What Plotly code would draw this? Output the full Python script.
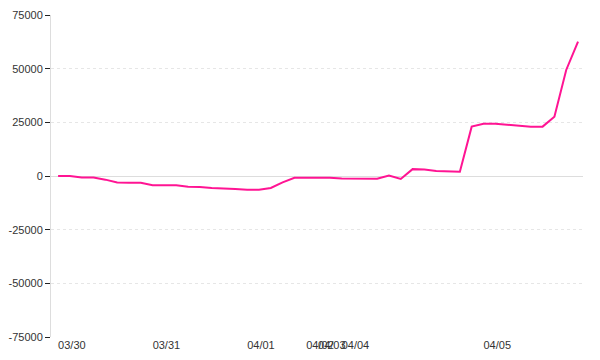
import plotly.graph_objects as go

# Data: one point per sample, each tagged with its date (category axis)
dates = (["03/30"] * 8 + ["03/31"] * 8 + ["04/01"] * 5 + ["04/02"] * 1 +
         ["04/03"] * 2 + ["04/04"] * 12 + ["04/05"] * 9)
values = [0, 0, -700, -700, -1700, -3000, -3100, -3100,
          -4300, -4300, -4300, -5000, -5100, -5600, -5700, -6000,
          -6400, -6400, -5600, -3000, -800,
          -800,
          -800, -800,
          -1200, -1250, -1250, -1250, 200, -1400, 3200, 3000, 2300, 2000, 2000, 23000,
          24300, 24300, 23900, 23400, 23000, 23000, 27600, 49400, 62600]
y_ticks = [75000, 50000, 25000, 0, -25000, -50000, -75000]

x = list(range(len(values)))
tickvals, ticktext = [], []
for i, d in enumerate(dates):
    if i == 0 or d != dates[i - 1]:
        tickvals.append(i)
        ticktext.append(d)

fig = go.Figure()
fig.add_trace(go.Scatter(x=x, y=values, mode="lines",
                         line=dict(color="#ff1493", width=2),
                         hoverinfo="skip", showlegend=False))

font = dict(family="Liberation Sans, Arial, sans-serif", size=11, color="#333333")
fig.update_layout(
    width=600, height=360,
    margin=dict(l=51, r=17, t=15, b=23),
    paper_bgcolor="white", plot_bgcolor="white",
    font=font,
    showlegend=False,
    xaxis=dict(range=[-0.6, len(values) - 1 + 0.42],
               tickmode="array", tickvals=tickvals, ticktext=ticktext,
               ticklabelposition="outside right", tickangle=0,
               automargin=False,
               showgrid=False, zeroline=False, showline=False,
               ticks="", tickfont=font),
    yaxis=dict(range=[-75000, 75000], tickmode="array", tickvals=y_ticks,
               ticktext=[str(v) for v in y_ticks], automargin=False,
               showgrid=True, gridcolor="#e6e6e6", griddash="dot", gridwidth=1,
               zeroline=True, zerolinecolor="#dddddd", zerolinewidth=1,
               showline=True, linecolor="#dddddd", linewidth=1,
               ticks="outside", ticklen=5, tickcolor="#222222",
               tickfont=font),
)
fig.write_html("out.html")
